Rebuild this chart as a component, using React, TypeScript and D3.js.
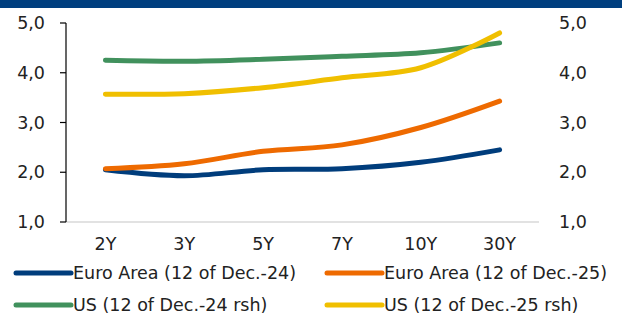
import * as d3 from "d3";

const tenors = ["2Y", "3Y", "5Y", "7Y", "10Y", "30Y"];
const euro24 = [2.05, 1.93, 2.05, 2.07, 2.2, 2.45];
const euro25 = [2.07, 2.17, 2.42, 2.55, 2.9, 3.43];
const us24 = [4.25, 4.23, 4.27, 4.33, 4.4, 4.6];
const us25 = [3.57, 3.58, 3.7, 3.9, 4.1, 4.8];
const yTicks = [1, 2, 3, 4, 5];

const series = [
  { name: "Euro Area (12 of Dec.-24)", values: euro24, color: "#003d7c", axis: "left" },
  { name: "Euro Area (12 of Dec.-25)", values: euro25, color: "#ee6a00", axis: "left" },
  { name: "US (12 of Dec.-24 rsh)", values: us24, color: "#41915d", axis: "right" },
  { name: "US (12 of Dec.-25 rsh)", values: us25, color: "#f0bf00", axis: "right" },
];

const W = 622;
const H = 320;
const font = "'DejaVu Sans', sans-serif";
const fs = 17.5;
const fmt = (v: number) => v.toFixed(1).replace(".", ",");

export default function App() {
  const x = d3.scaleBand<string>().domain(tenors).range([66, 539]);
  const yL = d3.scaleLinear().domain([1, 5]).range([222, 23]);
  const yR = d3.scaleLinear().domain([1, 5]).range([222, 23]);

  const line = (s: (typeof series)[number]) => {
    const y = s.axis === "left" ? yL : yR;
    return d3
      .line<number>()
      .x((_, i) => (x(tenors[i]) ?? 0) + x.bandwidth() / 2)
      .y((d) => y(d))
      .curve(d3.curveCatmullRom)(s.values) ?? "";
  };

  return (
    <svg
      width={W}
      height={H}
      style={{ position: "absolute", left: 0, top: 0, background: "#fff" }}
      fontFamily={font}
    >
      <rect x={0} y={0} width={W} height={8} fill="#003f7f" />

      {/* baseline */}
      <line x1={66} x2={539} y1={yL(1)} y2={yL(1)} stroke="#d9d9d9" strokeWidth={1.5} />

      {/* left axis */}
      <line x1={66} x2={66} y1={yL(5)} y2={yL(1)} stroke="#000" strokeWidth={1.2} />
      {yTicks.map((t) => (
        <g key={"l" + t}>
          <line x1={60} x2={66} y1={yL(t)} y2={yL(t)} stroke="#000" strokeWidth={1.2} />
          <text x={45} y={yL(t)} dy="0.35em" textAnchor="end" fontSize={fs} fill="#222">
            {fmt(t)}
          </text>
        </g>
      ))}

      {/* right axis labels */}
      {yTicks.map((t) => (
        <text key={"r" + t} x={559} y={yR(t)} dy="0.35em" fontSize={fs} fill="#222">
          {fmt(t)}
        </text>
      ))}

      {/* x labels */}
      {tenors.map((t) => (
        <text
          key={t}
          x={(x(t) ?? 0) + x.bandwidth() / 2}
          y={244}
          dy="0.35em"
          textAnchor="middle"
          fontSize={fs}
          fill="#222"
        >
          {t}
        </text>
      ))}

      {series.map((s) => (
        <path
          key={s.name}
          d={line(s)}
          fill="none"
          stroke={s.color}
          strokeWidth={5}
          strokeLinecap="round"
          strokeLinejoin="round"
        />
      ))}

      {/* legend */}
      {series.map((s, i) => {
        const lx = i % 2 === 0 ? 16 : 327;
        const ly = i < 2 ? 273 : 305;
        return (
          <g key={"lg" + i}>
            <line x1={lx} x2={lx + 55} y1={ly} y2={ly} stroke={s.color} strokeWidth={5} strokeLinecap="round" />
            <text x={lx + 57} y={ly} dy="0.35em" fontSize={fs} fill="#222">
              {s.name}
            </text>
          </g>
        );
      })}
    </svg>
  );
}
